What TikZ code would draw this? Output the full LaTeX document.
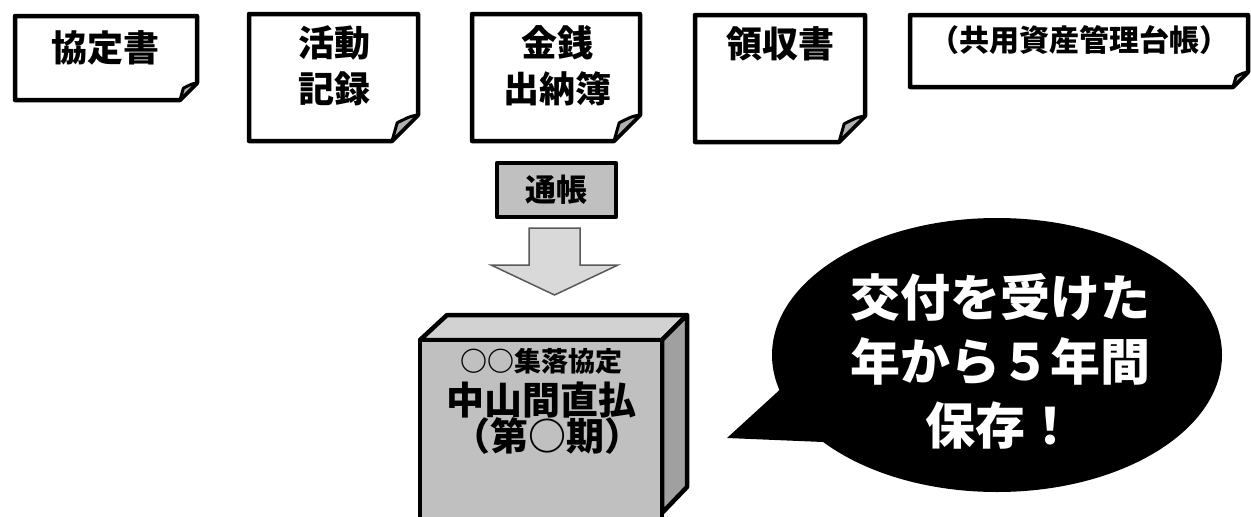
\documentclass[tikz,border=0pt]{standalone}
\usepackage{fontspec}
\newfontfamily\jp{Noto Sans CJK JP}
\definecolor{frontg}{HTML}{C0C0C0}
\definecolor{topg}{HTML}{D2D2D2}
\definecolor{sideg}{HTML}{A0A0A0}
\definecolor{arrowg}{HTML}{D9D9D9}
\definecolor{foldg}{HTML}{B0B0B0}
\tikzset{
  docline/.style={line width=4.5pt, line join=round, fill=white},
  flapline/.style={line width=3pt, line join=round, fill=foldg},
  doctext/.style={font=\jp\bfseries\fontsize{36}{46}\selectfont, align=center, inner sep=0pt},
  boxline/.style={line width=4.5pt, line join=round},
}
\newcommand\mydoc[5]{%
  \draw[docline] (#1,#2) -- (#3,#2) -- (#3,{#4-#5}) -- ({#3-#5},#4) -- (#1,#4) -- cycle;
  \draw[flapline] (#3,{#4-#5}) .. controls ({#3-0.3*#5},{#4-0.95*#5}) .. ({#3-0.8*#5},{#4-0.7*#5}) -- ({#3-#5},#4) -- cycle;
}
\begin{document}
\begin{tikzpicture}[x=1pt,y=-1pt]
\useasboundingbox (0,0) rectangle (1251,517);
% documents
\mydoc{15}{16}{197}{100}{17}
\mydoc{249}{14}{418}{141}{26}
\mydoc{472}{14}{640}{141}{26}
\mydoc{695}{15}{865}{142}{26}
\mydoc{910}{15}{1248}{87}{15}
\node[doctext] (d1) at (105,48) {協定書};
\node[doctext] (d2) at (334,66) {活動\\記録};
\node[doctext] (d3) at (557,66) {金銭\\出納簿};
\node[doctext] (d4) at (780,44) {領収書};
\node[doctext, font=\jp\bfseries\fontsize{30}{34}\selectfont] (d5) at (1079,40) {（共用資産管理台帳）};
% passbook
\node[draw, boxline, fill=frontg, minimum width=119pt, minimum height=54pt, inner sep=0pt,
      font=\jp\bfseries\fontsize{31}{36}\selectfont] (pb) at (556.5,190) {通帳};
% block arrow
\draw[fill=arrowg, draw=gray!70!black, line width=1.5pt, line join=miter]
  (529,228) -- (580,228) -- (580,265) -- (618,265) -- (554.5,295) -- (491,265) -- (529,265) -- cycle;
% 3D box
\draw[boxline, fill=topg] (420,340) -- (447,315) -- (687,315) -- (662,340) -- cycle;
\draw[boxline, fill=sideg] (662,340) -- (687,315) -- (687,487) -- (662,513) -- cycle;
\draw[boxline, fill=frontg] (420,540) -- (420,340) -- (662,340) -- (662,540);
\node[inner sep=0pt, font=\jp\bfseries\fontsize{27}{30}\selectfont] (b1) at (541,361) {○○集落協定};
\node[inner sep=0pt, font=\jp\bfseries\fontsize{38}{40}\selectfont] (b2) at (541,400) {中山間直払};
\node[inner sep=0pt, font=\jp\bfseries\fontsize{38}{40}\selectfont] (b3) at (547,436) {（第○期）};
% speech bubble
\fill[black] (997,355) ellipse [x radius=225, y radius=137];
\fill[black] (785,385) -- (727,438) -- (823,442) -- (850,400) -- cycle;
\node[inner sep=0pt, text=white, align=center, font=\jp\bfseries\fontsize{50}{64}\selectfont] (bub) at (1000,361) {交付を受けた\\年から５年間\\保存！};
\end{tikzpicture}
\end{document}
